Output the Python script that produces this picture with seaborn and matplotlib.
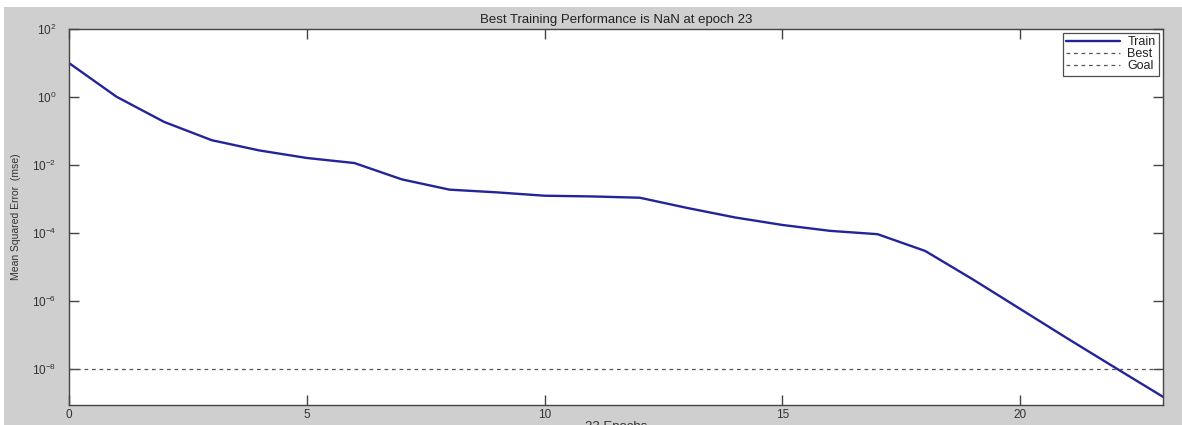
import math
import matplotlib
matplotlib.use("Agg")
import matplotlib.pyplot as plt
import seaborn as sns
import pandas as pd
from matplotlib.patches import Rectangle

# Data
epochs = list(range(24))
train_mse = [10.0, 1.02, 0.186, 0.054, 0.027, 0.0162, 0.0115, 0.0038, 0.0019,
             0.00158, 0.00126, 0.0012, 0.0011, 0.00055, 0.00029, 0.000174,
             0.000117, 0.0000933, 0.000030, 4.4e-6, 5.9e-7, 7.9e-8, 1.1e-8, 1.55e-9]
goal_value = 1e-8
title_text = "Best Training Performance is NaN at epoch 23"
x_label = "23 Epochs"
y_label = "Mean Squared Error  (mse)"
legend_labels = ["Train", "Best", "Goal"]
x_ticks = [0, 5, 10, 15, 20]
y_ticks = [1e2, 1e0, 1e-2, 1e-4, 1e-6, 1e-8]

sns.set_theme(style="white")
plt.rcParams['font.family'] = ['Liberation Sans', 'DejaVu Sans']
plt.rcParams['mathtext.fontset'] = 'custom'
plt.rcParams['mathtext.rm'] = 'Liberation Sans'
plt.rcParams['mathtext.it'] = 'Liberation Sans'

bg = "#cfcfcf"
fig = plt.figure(figsize=(11.82, 4.25), dpi=100, facecolor=bg)
# white strips at top and left of the screenshot
fig.patches.append(Rectangle((0, 1 - 7 / 425), 1, 7 / 425, transform=fig.transFigure,
                             facecolor="white", edgecolor="none", zorder=-1))
fig.patches.append(Rectangle((0, 0), 4 / 1182, 1, transform=fig.transFigure,
                             facecolor="white", edgecolor="none", zorder=-1))

ax = fig.add_axes([69 / 1182, 1 - 405 / 425, (1163 - 69) / 1182, (405 - 29) / 425])
ax.set_facecolor("white")

df = pd.DataFrame({"epoch": epochs, "mse": train_mse})
sns.lineplot(data=df, x="epoch", y="mse", ax=ax, color="#24249a", linewidth=1.7,
             label=legend_labels[0])
ax.plot([], [], linestyle=(0, (3, 3)), color="#555555", linewidth=0.9, label=legend_labels[1])
ax.axhline(goal_value, linestyle=(0, (3, 3)), color="#555555", linewidth=0.9,
           label=legend_labels[2])

ax.set_yscale("log")
ax.set_xlim(0, 23)
ax.set_ylim(10 ** -9.05, 1e2)
ax.set_xticks(x_ticks)
ax.set_xticklabels([str(t) for t in x_ticks])
ax.set_yticks(y_ticks)
ax.set_yticklabels([f"$10^{{{int(round(math.log10(t)))}}}$" for t in y_ticks])
ax.minorticks_off()

for s in ax.spines.values():
    s.set_color("#444444")
    s.set_linewidth(1.0)

ax.tick_params(axis="both", which="major", direction="in", length=7.5, width=1,
               color="#444444", labelcolor="#333333", labelsize=8.5,
               top=True, right=True, bottom=True, left=True)
ax.tick_params(axis="y", pad=9)
ax.tick_params(axis="x", pad=3)

ax.set_title(title_text, fontsize=9.5, color="#222222", pad=4)
ax.set_xlabel(x_label, fontsize=9.5, color="#333333", labelpad=0)
ax.set_ylabel(y_label, fontsize=7.5, color="#333333", labelpad=8)

leg = ax.legend(loc="upper right", fontsize=9, frameon=True, fancybox=False,
                borderpad=0.25, labelspacing=0.0, handlelength=4.3, handletextpad=0.6,
                borderaxespad=0.35)
leg.get_frame().set_edgecolor("#222222")
leg.get_frame().set_linewidth(0.9)
for t in leg.get_texts():
    t.set_color("#222222")

fig.savefig("out.png", dpi=100, facecolor=bg)
